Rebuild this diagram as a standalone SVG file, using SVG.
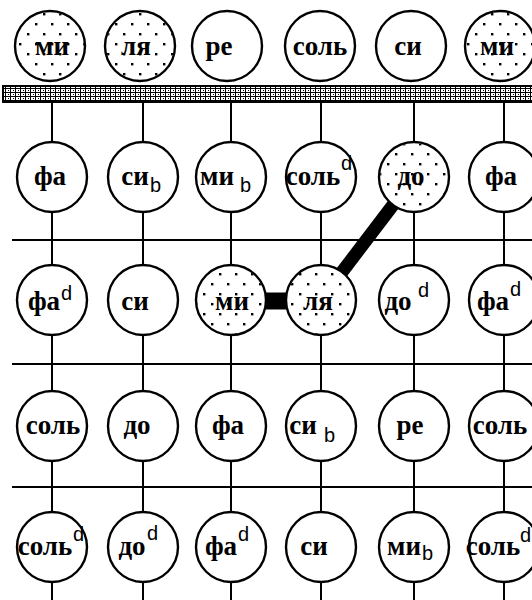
<svg xmlns="http://www.w3.org/2000/svg" width="532" height="600" viewBox="0 0 532 600">
<defs>
<pattern id="mesh" width="5" height="4" patternUnits="userSpaceOnUse">
<rect width="5" height="4" fill="#fff"/>
<rect width="5" height="1" fill="#000"/>
<rect width="1" height="4" fill="#000"/>
<rect x="3" y="2" width="1" height="1" fill="#000"/>
</pattern>
<pattern id="dots" width="16" height="20" patternUnits="userSpaceOnUse">
<rect x="3" y="3" width="2.4" height="2.4" fill="#000"/>
<rect x="11" y="13" width="2.4" height="2.4" fill="#000"/>
</pattern>
<style>
.c{fill:#fff;stroke:#000;stroke-width:2.4}
.d{fill:url(#dots);stroke:none}
.ln{stroke:#000;stroke-width:2;fill:none}
.t{font-family:"Liberation Serif","Times New Roman",serif;font-weight:bold;font-size:27px;text-anchor:middle;fill:#000}
.a{font-family:"Liberation Sans",Arial,sans-serif;font-size:20px;fill:#000}
</style>
</defs>
<rect width="532" height="600" fill="#fff"/>
<g id="bar">
<rect x="3" y="86" width="531" height="16" fill="url(#mesh)" stroke="#000" stroke-width="2"/>
</g>
<g id="connectors">
<line class="ln" x1="52" y1="102" x2="52" y2="600"/>
<line class="ln" x1="143" y1="102" x2="143" y2="600"/>
<line class="ln" x1="231" y1="102" x2="231" y2="600"/>
<line class="ln" x1="321" y1="102" x2="321" y2="600"/>
<line class="ln" x1="414" y1="102" x2="414" y2="600"/>
<line class="ln" x1="504" y1="102" x2="504" y2="600"/>
<line class="ln" x1="12" y1="240" x2="532" y2="240"/>
<line class="ln" x1="12" y1="364" x2="532" y2="364"/>
<line class="ln" x1="12" y1="487" x2="532" y2="487"/>
<line x1="262" y1="301" x2="290" y2="301" stroke="#000" stroke-width="17"/>
<line x1="342" y1="272" x2="393" y2="205" stroke="#000" stroke-width="13"/>
</g>
<g id="r1c1"><circle class="c" cx="50" cy="46" r="35"/><circle class="d" cx="50" cy="46" r="34"/><text class="t" x="52" y="55">ми</text></g>
<g id="r1c2"><circle class="c" cx="140" cy="46" r="35"/><circle class="d" cx="140" cy="46" r="34"/><text class="t" x="136" y="55">ля</text></g>
<g id="r1c3"><circle class="c" cx="227" cy="46" r="35"/><text class="t" x="219" y="55">ре</text></g>
<g id="r1c4"><circle class="c" cx="320" cy="46" r="35"/><text class="t" x="320" y="55">соль</text></g>
<g id="r1c5"><circle class="c" cx="411" cy="46" r="35"/><text class="t" x="408" y="55">си</text></g>
<g id="r1c6"><circle class="c" cx="500" cy="46" r="35"/><circle class="d" cx="500" cy="46" r="34"/><text class="t" x="497" y="55">ми</text></g>

<g id="r2c1"><circle class="c" cx="52" cy="177" r="35"/><text class="t" x="50" y="185">фа</text></g>
<g id="r2c2"><circle class="c" cx="143" cy="177" r="35"/><text class="t" x="135" y="185">си</text><text class="a" x="150" y="192">b</text></g>
<g id="r2c3"><circle class="c" cx="231" cy="177" r="35"/><text class="t" x="217" y="185">ми</text><text class="a" x="240" y="192">b</text></g>
<g id="r2c4"><circle class="c" cx="321" cy="177" r="35"/><text class="t" x="313" y="185">соль</text><text class="a" x="341" y="170">d</text></g>
<g id="r2c5"><circle class="c" cx="414" cy="177" r="35"/><circle class="d" cx="414" cy="177" r="34"/><text class="t" x="411" y="185">до</text></g>
<g id="r2c6"><circle class="c" cx="504" cy="177" r="35"/><text class="t" x="501" y="185">фа</text></g>

<g id="r3c1"><circle class="c" cx="52" cy="300" r="35"/><text class="t" x="44" y="310">фа</text><text class="a" x="61" y="300">d</text></g>
<g id="r3c2"><circle class="c" cx="143" cy="300" r="35"/><text class="t" x="135" y="310">си</text></g>
<g id="r3c3"><circle class="c" cx="231" cy="300" r="35"/><circle class="d" cx="231" cy="300" r="34"/><text class="t" x="232" y="310">ми</text></g>
<g id="r3c4"><circle class="c" cx="321" cy="300" r="35"/><circle class="d" cx="321" cy="300" r="34"/><text class="t" x="318" y="310">ля</text></g>
<g id="r3c5"><circle class="c" cx="414" cy="300" r="35"/><text class="t" x="398" y="310">до</text><text class="a" x="418" y="297">d</text></g>
<g id="r3c6"><circle class="c" cx="504" cy="300" r="35"/><text class="t" x="493" y="310">фа</text><text class="a" x="510" y="296">d</text></g>

<g id="r4c1"><circle class="c" cx="52" cy="426" r="35"/><text class="t" x="53" y="434">соль</text></g>
<g id="r4c2"><circle class="c" cx="143" cy="426" r="35"/><text class="t" x="137" y="434">до</text></g>
<g id="r4c3"><circle class="c" cx="231" cy="426" r="35"/><text class="t" x="228" y="434">фа</text></g>
<g id="r4c4"><circle class="c" cx="321" cy="426" r="35"/><text class="t" x="303" y="434">си</text><text class="a" x="324" y="442">b</text></g>
<g id="r4c5"><circle class="c" cx="414" cy="426" r="35"/><text class="t" x="410" y="434">ре</text></g>
<g id="r4c6"><circle class="c" cx="504" cy="426" r="35"/><text class="t" x="500" y="434">соль</text></g>

<g id="r5c1"><circle class="c" cx="52" cy="547" r="35"/><text class="t" x="45" y="555">соль</text><text class="a" x="73" y="541">d</text></g>
<g id="r5c2"><circle class="c" cx="143" cy="547" r="35"/><text class="t" x="132" y="555">до</text><text class="a" x="147" y="540">d</text></g>
<g id="r5c3"><circle class="c" cx="231" cy="547" r="35"/><text class="t" x="221" y="555">фа</text><text class="a" x="238" y="541">d</text></g>
<g id="r5c4"><circle class="c" cx="321" cy="547" r="35"/><text class="t" x="314" y="555">си</text></g>
<g id="r5c5"><circle class="c" cx="414" cy="547" r="35"/><text class="t" x="404" y="555">ми</text><text class="a" x="422" y="560">b</text></g>
<g id="r5c6"><circle class="c" cx="504" cy="547" r="35"/><text class="t" x="493" y="555">соль</text><text class="a" x="520" y="542">d</text></g>
</svg>
